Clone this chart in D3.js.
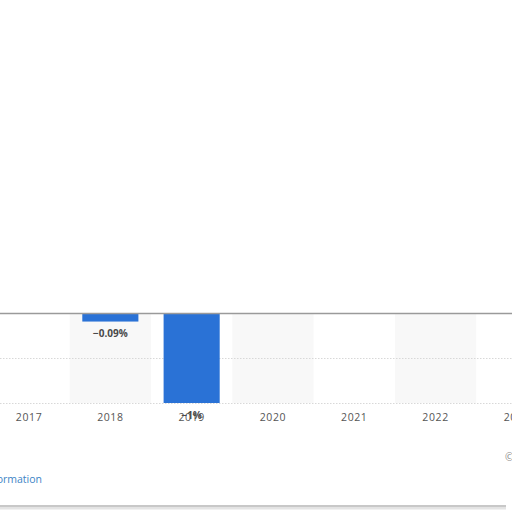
<!DOCTYPE html>
<html>
<head>
<meta charset="utf-8">
<script src="https://cdn.jsdelivr.net/npm/d3@7"></script>
<style>
  html, body { margin: 0; padding: 0; background: #fff; }
  svg { display: block; }
  text { font-family: "Open Sans", sans-serif; }
</style>
</head>
<body>
<svg id="chart" width="512" height="512"></svg>
<script>
const years = ["2017", "2018", "2019", "2020", "2021", "2022", "2023"];
const values = [null, -0.09, -1, null, null, null, null];
const valueLabels = [null, "-0.09%", "-1%", null, null, null, null];
const shadedYears = ["2018", "2020", "2022"];
const gridTicks = [-0.5, -1];

const svg = d3.select("#chart");
const W = 512, H = 512;

const x = d3.scaleBand().domain(years).range([-11.6, 557.5]).padding(0);
const xBar = d3.scaleBand().domain(years).range([-11.6, 557.5])
  .paddingInner(0.31).paddingOuter(0.155);
const y = d3.scaleLinear().domain([-1, 0]).range([403, 313.5]);

// alternating background bands
svg.append("g").selectAll("rect").data(shadedYears).join("rect")
  .attr("x", d => x(d)).attr("width", x.bandwidth())
  .attr("y", y(0)).attr("height", y(-1) - y(0))
  .attr("fill", "#f8f8f8");

// dotted gridlines
svg.append("g").selectAll("line").data(gridTicks).join("line")
  .attr("x1", 0).attr("x2", W)
  .attr("y1", d => Math.round(y(d)) + 0.5).attr("y2", d => Math.round(y(d)) + 0.5)
  .attr("stroke", "#d8d8d8").attr("stroke-width", 1)
  .attr("stroke-dasharray", "1.5,1.5");

// bars
const data = years.map((yr, i) => ({ yr, v: values[i], label: valueLabels[i] }))
  .filter(d => d.v !== null);
svg.append("g").selectAll("rect").data(data).join("rect")
  .attr("x", d => xBar(d.yr)).attr("width", xBar.bandwidth())
  .attr("y", d => y(Math.max(0, d.v)))
  .attr("height", d => Math.abs(y(d.v) - y(0)))
  .attr("fill", "#2a72d6");

// zero line
svg.append("line")
  .attr("x1", 0).attr("x2", W)
  .attr("y1", y(0)).attr("y2", y(0))
  .attr("stroke", "#9a9a9a").attr("stroke-width", 1.5);

// x axis labels
const xAxis = d3.axisBottom(x).tickSize(0).tickPadding(0);
const gx = svg.append("g").attr("transform", `translate(0,${414})`).call(xAxis);
gx.select(".domain").remove();
gx.selectAll("text")
  .attr("dy", "0.71em")
  .style("font-size", "10.5px")
  .style("letter-spacing", "0.6px")
  .attr("fill", "#555");

// value labels
svg.append("g").selectAll("text").data(data).join("text")
  .attr("x", d => xBar(d.yr) + xBar.bandwidth() / 2)
  .attr("y", d => y(d.v) + 15.5)
  .attr("text-anchor", "middle")
  .style("font-size", "10px")
  .style("font-weight", "bold")
  .attr("fill", "#4a4a4a")
  .text(d => d.label.replace("-", "\u2212"));

// footer
svg.append("text")
  .attr("x", 42).attr("y", 483)
  .attr("text-anchor", "end")
  .style("font-size", "10.5px")
  .attr("fill", "#3d84c6")
  .text("Additional Information");

svg.append("text")
  .attr("x", 505).attr("y", 461)
  .style("font-size", "10.5px")
  .attr("fill", "#888")
  .text("© Statista 2024");

// card bottom edge
svg.append("rect")
  .attr("x", 0).attr("y", 505).attr("width", 506).attr("height", 2.5)
  .attr("fill", "#c8c8c8");
svg.append("rect")
  .attr("x", 0).attr("y", 507.5).attr("width", 506).attr("height", 2)
  .attr("fill", "#e4e4e4");
</script>
</body>
</html>
